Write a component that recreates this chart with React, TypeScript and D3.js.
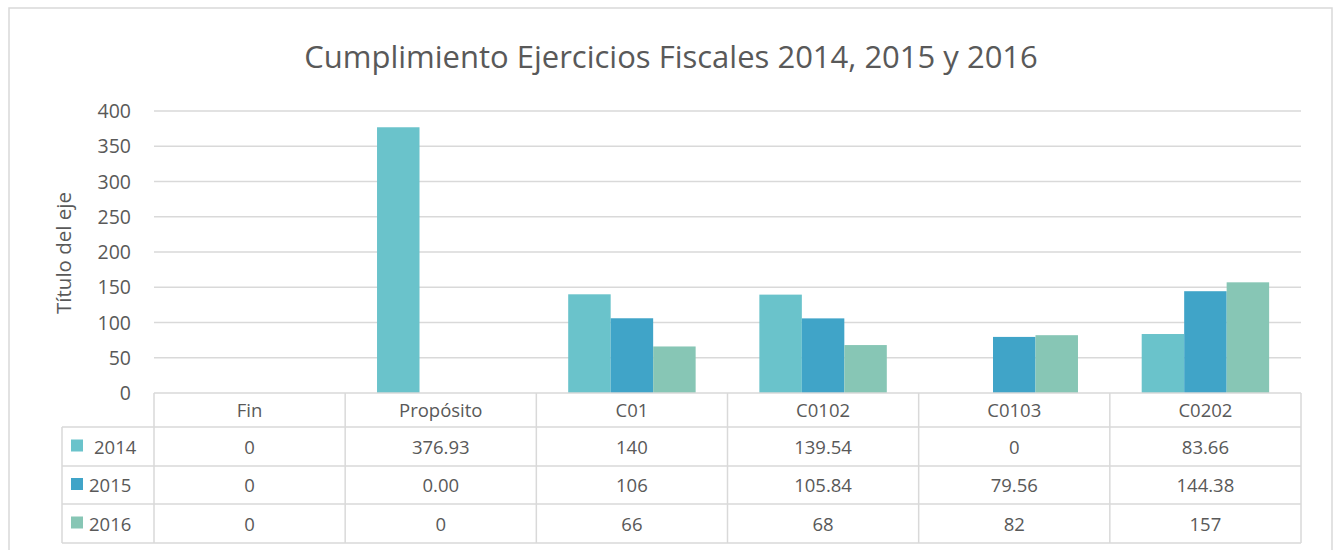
import React from "react";
import * as d3 from "d3";

const categories = ["Fin", "Propósito", "C01", "C0102", "C0103", "C0202"];
const seriesNames = ["2014", "2015", "2016"];
const values2014 = [0, 376.93, 140, 139.54, 0, 83.66];
const values2015 = [0, 0, 106, 105.84, 79.56, 144.38];
const values2016 = [0, 0, 66, 68, 82, 157];
const labels2014 = ["0", "376.93", "140", "139.54", "0", "83.66"];
const labels2015 = ["0", "0.00", "106", "105.84", "79.56", "144.38"];
const labels2016 = ["0", "0", "66", "68", "82", "157"];
const yTicks = [0, 50, 100, 150, 200, 250, 300, 350, 400];
const colors = ["#6AC3CB", "#40A4C8", "#87C6B5"];

export default function App() {
  const W = 1336, H = 550;
  const left = 154, right = 1301, top = 111, bottom = 393;
  const x = d3.scaleBand().domain(categories).range([left, right]).paddingInner(0).paddingOuter(0);
  const inner = d3.scaleBand().domain(seriesNames).range([0, x.bandwidth()]).paddingInner(0).paddingOuter(0.75);
  const y = d3.scaleLinear().domain([0, 400]).range([bottom, top]);
  const series = [values2014, values2015, values2016];
  const labels = [labels2014, labels2015, labels2016];
  const rowY = [393, 427, 466, 504, 543];
  const legendLeft = 62;
  const font = "'Open Sans', 'Liberation Sans', sans-serif";
  const textColor = "#595959";
  const lineColor = "#D9D9D9";
  const fs = 18.5;
  return (
    <svg width={W} height={H} style={{ position: "absolute", left: 0, top: 0, fontFamily: font }}>
      <rect x={0} y={0} width={W} height={H} fill="#fff" />
      <rect x={9} y={8} width={1323} height={560} fill="none" stroke={lineColor} strokeWidth={1.5} />
      <text x={671} y={68} textAnchor="middle" fontSize={31} fill={textColor}>
        Cumplimiento Ejercicios Fiscales 2014, 2015 y 2016
      </text>
      {yTicks.map((t) => (
        <g key={t}>
          {t > 0 && <line x1={left} x2={right} y1={y(t)} y2={y(t)} stroke={lineColor} strokeWidth={1.5} />}
          <text x={131} y={y(t) + 7} textAnchor="end" fontSize={19.5} fill={textColor}>{t}</text>
        </g>
      ))}
      <text transform={`translate(71,${(top + bottom) / 2 + 1}) rotate(-90)`} textAnchor="middle" fontSize={20.5} fill={textColor}>
        Título del eje
      </text>
      {series.map((vals, si) =>
        vals.map((v, ci) => (
          v > 0 ? (
            <rect key={`${si}-${ci}`} x={(x(categories[ci]) as number) + (inner(seriesNames[si]) as number)}
              y={y(v)} width={inner.bandwidth()} height={bottom - y(v)} fill={colors[si]} />
          ) : null
        ))
      )}
      {/* table */}
      <line x1={left} x2={right} y1={rowY[0]} y2={rowY[0]} stroke={lineColor} strokeWidth={1.5} />
      {rowY.slice(1).map((ry) => (
        <line key={ry} x1={legendLeft} x2={right} y1={ry} y2={ry} stroke={lineColor} strokeWidth={1.5} />
      ))}
      <line x1={legendLeft} x2={legendLeft} y1={rowY[1]} y2={rowY[4]} stroke={lineColor} strokeWidth={1.5} />
      {categories.map((c) => (
        <line key={c} x1={x(c) as number} x2={x(c) as number} y1={rowY[0]} y2={rowY[4]} stroke={lineColor} strokeWidth={1.5} />
      ))}
      <line x1={right} x2={right} y1={rowY[0]} y2={rowY[4]} stroke={lineColor} strokeWidth={1.5} />
      {categories.map((c) => (
        <text key={c} x={(x(c) as number) + x.bandwidth() / 2} y={(rowY[0] + rowY[1]) / 2 + 7} textAnchor="middle" fontSize={fs} fill={textColor}>{c}</text>
      ))}
      {seriesNames.map((s, si) => (
        <g key={s}>
          <rect x={71} y={(rowY[si + 1] + rowY[si + 2]) / 2 - 7} width={12} height={12} fill={colors[si]} />
          <text x={si === 0 ? 94 : 89} y={(rowY[si + 1] + rowY[si + 2]) / 2 + 7} fontSize={fs} fill={textColor}>{s}</text>
          {labels[si].map((l, ci) => (
            <text key={ci} x={(x(categories[ci]) as number) + x.bandwidth() / 2} y={(rowY[si + 1] + rowY[si + 2]) / 2 + 7} textAnchor="middle" fontSize={fs} fill={textColor}>{l}</text>
          ))}
        </g>
      ))}
    </svg>
  );
}
